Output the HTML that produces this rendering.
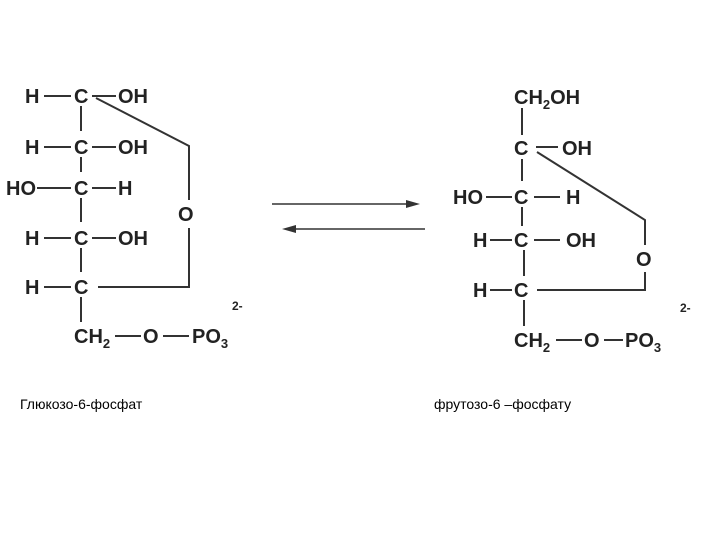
<!DOCTYPE html>
<html><head><meta charset="utf-8"><style>
html,body{margin:0;padding:0;background:#fff;width:720px;height:540px;overflow:hidden}
svg{display:block}
.t{font-family:"Liberation Sans",sans-serif;font-weight:bold;font-size:20px;fill:#222}
.s{font-size:13px}
.l{font-family:"Liberation Sans",sans-serif;font-size:14px;fill:#000}
line,polyline{stroke:#333;stroke-width:2;fill:none}
</style></head><body>
<svg width="720" height="540" viewBox="0 0 720 540">
<g class="t">
<text x="25" y="103">H</text><text x="74" y="103">C</text><text x="118" y="103">OH</text>
<text x="25" y="154">H</text><text x="74" y="154">C</text><text x="118" y="154">OH</text>
<text x="6" y="195">HO</text><text x="74" y="195">C</text><text x="118" y="195">H</text>
<text x="25" y="245">H</text><text x="74" y="245">C</text><text x="118" y="245">OH</text>
<text x="25" y="294">H</text><text x="74" y="294">C</text>
<text x="178" y="221">O</text>
<text x="74" y="343">CH<tspan class="s" dy="5">2</tspan></text>
<text x="143" y="343">O</text>
<text x="192" y="343">PO<tspan class="s" dy="5">3</tspan></text>
<text x="232" y="310" style="font-size:12px">2-</text>
</g>
<g>
<line x1="44" y1="96" x2="71" y2="96"/><line x1="92" y1="96" x2="116" y2="96"/>
<line x1="44" y1="147" x2="71" y2="147"/><line x1="92" y1="147" x2="116" y2="147"/>
<line x1="37" y1="188" x2="71" y2="188"/><line x1="92" y1="188" x2="116" y2="188"/>
<line x1="44" y1="238" x2="71" y2="238"/><line x1="92" y1="238" x2="116" y2="238"/>
<line x1="44" y1="287" x2="71" y2="287"/>
<line x1="81" y1="106" x2="81" y2="131"/><line x1="81" y1="157" x2="81" y2="172"/>
<line x1="81" y1="198" x2="81" y2="222"/><line x1="81" y1="248" x2="81" y2="272"/>
<line x1="81" y1="297" x2="81" y2="322"/>
<line x1="115" y1="336" x2="141" y2="336"/><line x1="163" y1="336" x2="189" y2="336"/>
<polyline points="96,98 189,146 189,200"/>
<polyline points="189,228 189,287 98,287"/>
</g>
<line x1="272" y1="204" x2="412" y2="204" style="stroke-width:1.5"/>
<polygon points="420,204 406,200 406,208" fill="#333"/>
<line x1="290" y1="229" x2="425" y2="229" style="stroke-width:1.5"/>
<polygon points="282,229 296,225 296,233" fill="#333"/>
<g class="t">
<text x="514" y="104">CH<tspan class="s" dy="5">2</tspan><tspan dy="-5">OH</tspan></text>
<text x="514" y="155">C</text><text x="562" y="155">OH</text>
<text x="453" y="204">HO</text><text x="514" y="204">C</text><text x="566" y="204">H</text>
<text x="473" y="247">H</text><text x="514" y="247">C</text><text x="566" y="247">OH</text>
<text x="473" y="297">H</text><text x="514" y="297">C</text>
<text x="636" y="266">O</text>
<text x="514" y="347">CH<tspan class="s" dy="5">2</tspan></text>
<text x="584" y="347">O</text>
<text x="625" y="347">PO<tspan class="s" dy="5">3</tspan></text>
<text x="680" y="312" style="font-size:12px">2-</text>
</g>
<g>
<line x1="522" y1="108" x2="522" y2="135"/>
<line x1="536" y1="147" x2="558" y2="147"/>
<line x1="522" y1="159" x2="522" y2="181"/>
<line x1="486" y1="197" x2="512" y2="197"/><line x1="534" y1="197" x2="560" y2="197"/>
<line x1="522" y1="207" x2="522" y2="226"/>
<line x1="490" y1="240" x2="512" y2="240"/><line x1="534" y1="240" x2="560" y2="240"/>
<line x1="524" y1="250" x2="524" y2="276"/>
<line x1="490" y1="290" x2="512" y2="290"/>
<line x1="524" y1="300" x2="524" y2="326"/>
<line x1="556" y1="340" x2="582" y2="340"/><line x1="604" y1="340" x2="623" y2="340"/>
<polyline points="537,152 645,220 645,245"/>
<polyline points="645,272 645,290 537,290"/>
</g>
<text class="l" x="20" y="409">Глюкозо-6-фосфат</text>
<text class="l" x="434" y="409">фрутозо-6 –фосфату</text>
</svg>
</body></html>
